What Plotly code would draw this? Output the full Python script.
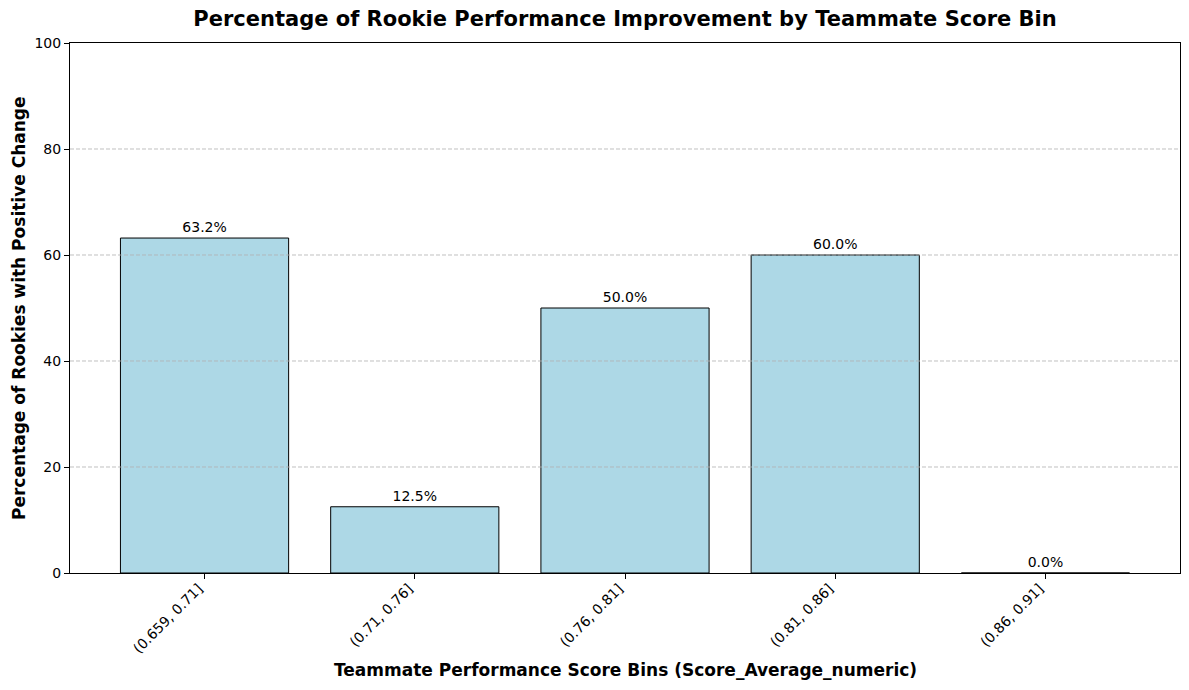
import plotly.graph_objects as go

categories = ["(0.659, 0.71]", "(0.71, 0.76]", "(0.76, 0.81]", "(0.81, 0.86]", "(0.86, 0.91]"]
percent_positive = [63.2, 12.5, 50.0, 60.0, 0.0]
y_ticks = [0, 20, 40, 60, 80, 100]
grid_vals = [20, 40, 60, 80]

FONT = "DejaVu Sans"

fig = go.Figure()
fig.add_trace(go.Bar(
    x=categories,
    y=percent_positive,
    width=0.8,
    marker=dict(color="#ADD8E6", line=dict(color="black", width=1)),
    text=[f"{v:.1f}%" for v in percent_positive],
    textposition="outside",
    textfont=dict(family=FONT, size=14, color="black"),
    cliponaxis=False,
    showlegend=False,
))

for g in grid_vals:
    fig.add_shape(type="line", xref="paper", yref="y", x0=0, x1=1, y0=g, y1=g,
                  line=dict(color="rgba(176,176,176,0.8)", width=1, dash="4px,2px"),
                  layer="above")

fig.add_annotation(text="<b>Teammate Performance Score Bins (Score_Average_numeric)</b>",
                   xref="paper", yref="paper", x=0.5, y=0, xanchor="center", yanchor="middle",
                   yshift=-97, showarrow=False, font=dict(family=FONT, size=17, color="black"))
fig.add_annotation(text="<b>Percentage of Rookies with Positive Change</b>",
                   xref="paper", yref="paper", x=0, y=0.5, xanchor="center", yanchor="middle",
                   xshift=-51, textangle=-90, showarrow=False,
                   font=dict(family=FONT, size=17, color="black"))

fig.update_layout(
    width=1181, height=682,
    paper_bgcolor="white", plot_bgcolor="white",
    margin=dict(l=62, r=9, t=35, b=117, autoexpand=False),
    font=dict(family=FONT, size=14, color="black"),
    title=dict(text="<b>Percentage of Rookie Performance Improvement by Teammate Score Bin</b>",
               xref="paper", x=0.5, xanchor="center",
               yref="container", y=1 - 11 / 682, yanchor="middle",
               font=dict(family=FONT, size=21, color="black")),
    bargap=0.2,
)
fig.update_xaxes(
    range=[-0.64, 4.64], automargin=False,
    showline=True, linecolor="black", linewidth=1, mirror=True,
    ticks="outside", ticklen=5, tickcolor="black", tickwidth=1,
    tickangle=-45, tickfont=dict(family=FONT, size=14, color="black"),
    ticklabelshift=-6, ticklabelstandoff=-4,
    showgrid=False,
)
fig.update_yaxes(
    range=[0, 100], tickvals=y_ticks, automargin=False,
    showline=True, linecolor="black", linewidth=1, mirror=True,
    ticks="outside", ticklen=5, tickcolor="black", tickwidth=1,
    tickfont=dict(family=FONT, size=14, color="black"),
    showgrid=False, zeroline=False,
)

fig.write_html("out.html")
